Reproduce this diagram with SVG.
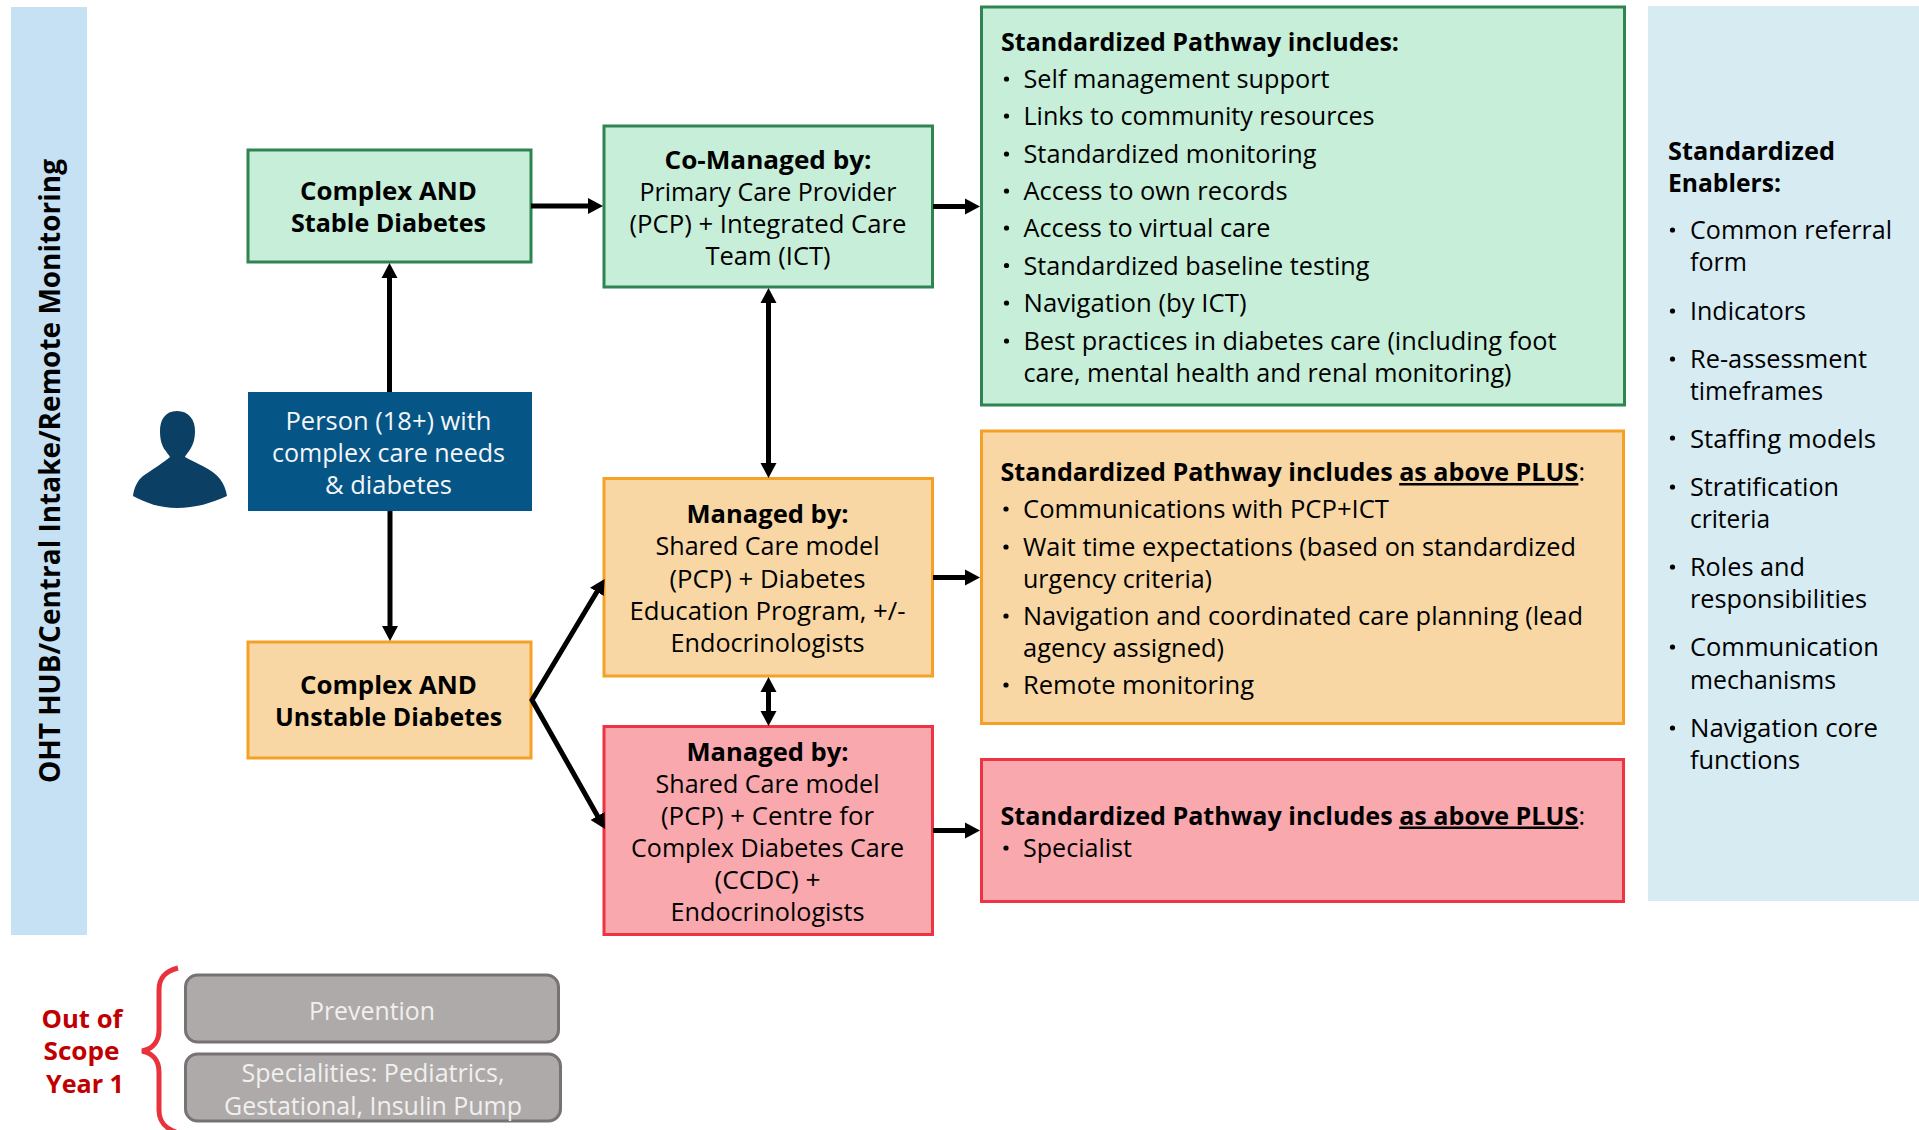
<svg xmlns="http://www.w3.org/2000/svg" width="1919" height="1130" viewBox="0 0 1919 1130">
<style>
text{font-family:"Open Sans","Noto Sans","Liberation Sans",sans-serif;font-size:25px;fill:#000}
.m{text-anchor:middle}
.b{font-weight:700}
.w{fill:#f4f6f8}
.g{fill:#f1f0ef}
.r{fill:#c00000;font-weight:700}
.green{fill:#c6eed9;stroke:#2f8452;stroke-width:3}
.orange{fill:#f9d7a4;stroke:#f5a127;stroke-width:3}
.red{fill:#f9a8ad;stroke:#ee3342;stroke-width:3}
.grey{fill:#aeaaa9;stroke:#767372;stroke-width:3}
.c{fill:none;stroke:#000;stroke-width:5}
</style>
<defs>
<marker id="a" markerUnits="userSpaceOnUse" markerWidth="18" markerHeight="18" refX="8" refY="9" orient="auto-start-reverse"><path d="M0 1L15 9L0 17Z" fill="#000"/></marker>
<circle id="d" r="2.600" fill="#000"/>
</defs>
<rect width="1919" height="1130" fill="#fff"/>
<g id="hub"><rect x="11" y="7" width="76" height="928" fill="#c5e1f3"/>
<text class="b m" transform="translate(60 471) rotate(-90)" style="font-size:28px" textLength="624" lengthAdjust="spacingAndGlyphs">OHT HUB/Central Intake/Remote Monitoring</text></g>
<g id="person-icon"><path d="M177 411C189 411 195 420 195 431C195 441 192 447 189 451C187 454 185 456 185 457C195 463 213 469 220 479C224 484 226 490 227 496C212 503 195 508 177 508C160 508 146 503 133 496C134 488 137 481 143 476C153 469 163 463 170 457C169 455 167 453 165 450C162 446 160 440 160 431C160 420 165 411 177 411Z" fill="#0b3f63"/></g>
<g id="person"><rect x="248" y="392" width="284" height="119" fill="#055587"/>
<text class="m w" x="388.500" y="430" textLength="206" lengthAdjust="spacingAndGlyphs">Person (18+) with</text>
<text class="m w" x="388.500" y="462" textLength="233" lengthAdjust="spacingAndGlyphs">complex care needs</text>
<text class="m w" x="388.500" y="494" textLength="127" lengthAdjust="spacingAndGlyphs">&amp; diabetes</text></g>
<g id="stable"><rect class="green" x="248" y="150" width="283" height="112"/>
<text class="m b" x="388.500" y="199.500" textLength="177" lengthAdjust="spacingAndGlyphs">Complex AND</text>
<text class="m b" x="388.500" y="231.500" textLength="195" lengthAdjust="spacingAndGlyphs">Stable Diabetes</text></g>
<g id="unstable"><rect class="orange" x="248" y="642" width="283" height="116"/>
<text class="m b" x="388.500" y="693.500" textLength="177" lengthAdjust="spacingAndGlyphs">Complex AND</text>
<text class="m b" x="388.500" y="725.500" textLength="227" lengthAdjust="spacingAndGlyphs">Unstable Diabetes</text></g>
<g id="co-managed"><rect class="green" x="604" y="126" width="328.500" height="161"/>
<text class="m b" x="768" y="169" textLength="207" lengthAdjust="spacingAndGlyphs">Co-Managed by:</text>
<text class="m" x="768" y="201" textLength="257" lengthAdjust="spacingAndGlyphs">Primary Care Provider</text>
<text class="m" x="768" y="233" textLength="277" lengthAdjust="spacingAndGlyphs">(PCP) + Integrated Care</text>
<text class="m" x="768" y="265" textLength="125" lengthAdjust="spacingAndGlyphs">Team (ICT)</text></g>
<g id="managed-shared"><rect class="orange" x="604" y="478.500" width="328.500" height="197.500"/>
<text class="m b" x="767.500" y="523" textLength="162" lengthAdjust="spacingAndGlyphs">Managed by:</text>
<text class="m" x="767.500" y="555" textLength="224" lengthAdjust="spacingAndGlyphs">Shared Care model</text>
<text class="m" x="767.500" y="587.500" textLength="196" lengthAdjust="spacingAndGlyphs">(PCP) + Diabetes</text>
<text class="m" x="767.500" y="619.500" textLength="276" lengthAdjust="spacingAndGlyphs">Education Program, +/-</text>
<text class="m" x="767.500" y="651.500" textLength="194" lengthAdjust="spacingAndGlyphs">Endocrinologists</text></g>
<g id="managed-ccdc"><rect class="red" x="604" y="726.500" width="328.500" height="208"/>
<text class="m b" x="767.500" y="761" textLength="162" lengthAdjust="spacingAndGlyphs">Managed by:</text>
<text class="m" x="767.500" y="793" textLength="224" lengthAdjust="spacingAndGlyphs">Shared Care model</text>
<text class="m" x="767.500" y="825" textLength="213" lengthAdjust="spacingAndGlyphs">(PCP) + Centre for</text>
<text class="m" x="767.500" y="857" textLength="273" lengthAdjust="spacingAndGlyphs">Complex Diabetes Care</text>
<text class="m" x="767.500" y="889" textLength="106" lengthAdjust="spacingAndGlyphs">(CCDC) +</text>
<text class="m" x="767.500" y="921" textLength="194" lengthAdjust="spacingAndGlyphs">Endocrinologists</text></g>
<g id="pathway-green"><rect class="green" x="981.500" y="7" width="643" height="398"/>
<text class="b" x="1001" y="51" textLength="398" lengthAdjust="spacingAndGlyphs">Standardized Pathway includes:</text>
<use href="#d" x="1006.500" y="79"/><text x="1023.500" y="88" textLength="306" lengthAdjust="spacingAndGlyphs">Self management support</text>
<use href="#d" x="1006.500" y="116"/><text x="1023.500" y="125" textLength="351" lengthAdjust="spacingAndGlyphs">Links to community resources</text>
<use href="#d" x="1006.500" y="154"/><text x="1023.500" y="163" textLength="293" lengthAdjust="spacingAndGlyphs">Standardized monitoring</text>
<use href="#d" x="1006.500" y="191"/><text x="1023.500" y="200" textLength="264" lengthAdjust="spacingAndGlyphs">Access to own records</text>
<use href="#d" x="1006.500" y="228"/><text x="1023.500" y="237" textLength="247" lengthAdjust="spacingAndGlyphs">Access to virtual care</text>
<use href="#d" x="1006.500" y="265.500"/><text x="1023.500" y="274.500" textLength="346" lengthAdjust="spacingAndGlyphs">Standardized baseline testing</text>
<use href="#d" x="1006.500" y="303"/><text x="1023.500" y="312" textLength="223" lengthAdjust="spacingAndGlyphs">Navigation (by ICT)</text>
<use href="#d" x="1006.500" y="341"/><text x="1023.500" y="350" textLength="533" lengthAdjust="spacingAndGlyphs">Best practices in diabetes care (including foot</text>
<text x="1023.500" y="382" textLength="488" lengthAdjust="spacingAndGlyphs">care, mental health and renal monitoring)</text></g>
<g id="pathway-orange"><rect class="orange" x="981.500" y="431" width="642" height="292.500"/>
<text x="1000.500" y="481" textLength="584.500" lengthAdjust="spacingAndGlyphs"><tspan class="b">Standardized Pathway includes </tspan><tspan class="b" text-decoration="underline">as above PLUS</tspan>:</text>
<use href="#d" x="1006" y="509"/><text x="1023" y="518" textLength="366" lengthAdjust="spacingAndGlyphs">Communications with PCP+ICT</text>
<use href="#d" x="1006" y="547"/><text x="1023" y="556" textLength="553" lengthAdjust="spacingAndGlyphs">Wait time expectations (based on standardized</text>
<text x="1023" y="588" textLength="189" lengthAdjust="spacingAndGlyphs">urgency criteria)</text>
<use href="#d" x="1006" y="616"/><text x="1023" y="625" textLength="560" lengthAdjust="spacingAndGlyphs">Navigation and coordinated care planning (lead</text>
<text x="1023" y="657" textLength="201" lengthAdjust="spacingAndGlyphs">agency assigned)</text>
<use href="#d" x="1006" y="685"/><text x="1023" y="694" textLength="231" lengthAdjust="spacingAndGlyphs">Remote monitoring</text></g>
<g id="pathway-red"><rect class="red" x="981.500" y="759.500" width="642" height="142"/>
<text x="1000.500" y="824.500" textLength="584.500" lengthAdjust="spacingAndGlyphs"><tspan class="b">Standardized Pathway includes </tspan><tspan class="b" text-decoration="underline">as above PLUS</tspan>:</text>
<use href="#d" x="1006" y="848"/><text x="1023" y="857" textLength="109" lengthAdjust="spacingAndGlyphs">Specialist</text></g>
<g id="enablers"><rect x="1648" y="6" width="271" height="895" fill="#d7ebf2"/>
<text class="b" x="1668" y="159.500" textLength="167" lengthAdjust="spacingAndGlyphs">Standardized</text>
<text class="b" x="1668" y="191.500" textLength="113" lengthAdjust="spacingAndGlyphs">Enablers:</text>
<use href="#d" x="1672.500" y="230"/><text x="1690" y="239" textLength="202" lengthAdjust="spacingAndGlyphs">Common referral</text>
<text x="1690" y="271" textLength="57" lengthAdjust="spacingAndGlyphs">form</text>
<use href="#d" x="1672.500" y="311"/><text x="1690" y="320" textLength="116" lengthAdjust="spacingAndGlyphs">Indicators</text>
<use href="#d" x="1672.500" y="359"/><text x="1690" y="368" textLength="177" lengthAdjust="spacingAndGlyphs">Re-assessment</text>
<text x="1690" y="400" textLength="133" lengthAdjust="spacingAndGlyphs">timeframes</text>
<use href="#d" x="1672.500" y="438"/><text x="1690" y="447.500" textLength="186" lengthAdjust="spacingAndGlyphs">Staffing models</text>
<use href="#d" x="1672.500" y="487"/><text x="1690" y="496" textLength="149" lengthAdjust="spacingAndGlyphs">Stratification</text>
<text x="1690" y="528" textLength="80" lengthAdjust="spacingAndGlyphs">criteria</text>
<use href="#d" x="1672.500" y="567"/><text x="1690" y="576" textLength="115" lengthAdjust="spacingAndGlyphs">Roles and</text>
<text x="1690" y="608" textLength="177" lengthAdjust="spacingAndGlyphs">responsibilities</text>
<use href="#d" x="1672.500" y="647"/><text x="1690" y="656" textLength="189" lengthAdjust="spacingAndGlyphs">Communication</text>
<text x="1690" y="688.500" textLength="146" lengthAdjust="spacingAndGlyphs">mechanisms</text>
<use href="#d" x="1672.500" y="728"/><text x="1690" y="737" textLength="188" lengthAdjust="spacingAndGlyphs">Navigation core</text>
<text x="1690" y="769" textLength="110" lengthAdjust="spacingAndGlyphs">functions</text></g>
<g id="out-of-scope"><path d="M178 968C166 971 159 977 159 990L159 1030C159 1042 152 1049 142 1051C152 1053 159 1060 159 1072L159 1110C159 1122 165 1128 176 1132" fill="none" stroke="#e8323c" stroke-width="5"/>
<text class="m r" x="82" y="1028" textLength="81" lengthAdjust="spacingAndGlyphs">Out of</text>
<text class="m r" x="81.500" y="1060" textLength="76" lengthAdjust="spacingAndGlyphs">Scope</text>
<text class="m r" x="85" y="1093" textLength="78" lengthAdjust="spacingAndGlyphs">Year 1</text></g>
<g id="prevention"><rect class="grey" x="185.500" y="975" width="373" height="67" rx="12"/>
<text class="m g" x="372" y="1020" textLength="126" lengthAdjust="spacingAndGlyphs">Prevention</text></g>
<g id="specialities"><rect class="grey" x="185.500" y="1054" width="375" height="67" rx="12"/>
<text class="m g" x="373" y="1082" textLength="263" lengthAdjust="spacingAndGlyphs">Specialities: Pediatrics,</text>
<text class="m g" x="373" y="1115" textLength="298" lengthAdjust="spacingAndGlyphs">Gestational, Insulin Pump</text></g>
<g id="connectors">
<path class="c" d="M389.500 392V270" marker-end="url(#a)"/>
<path class="c" d="M390 511V634" marker-end="url(#a)"/>
<path class="c" d="M531 206H596" marker-end="url(#a)"/>
<path class="c" d="M933 206.500H973" marker-end="url(#a)"/>
<path class="c" d="M933 577.500H973" marker-end="url(#a)"/>
<path class="c" d="M933 830.500H973" marker-end="url(#a)"/>
<path class="c" d="M768.500 295V471" marker-start="url(#a)" marker-end="url(#a)"/>
<path class="c" d="M768.500 684V719" marker-start="url(#a)" marker-end="url(#a)"/>
<path class="c" d="M601 585L532 700L601.500 823" marker-start="url(#a)" marker-end="url(#a)"/>
</g>
</svg>
